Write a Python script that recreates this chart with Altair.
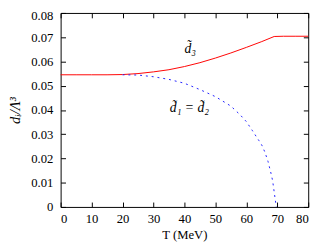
import altair as alt
import pandas as pd

T_d3 = [0, 5, 10, 15, 20, 25, 30, 35, 40, 45, 50, 55, 60, 65, 69, 72, 76, 80]
d3 = [0.0545, 0.0545, 0.0545, 0.0545, 0.0546, 0.0550, 0.0557, 0.0566, 0.0579,
      0.0595, 0.0614, 0.0635, 0.0658, 0.0682, 0.0703, 0.0704, 0.0704, 0.0704]

T_d12 = [20, 25, 30, 35, 40, 45, 50, 55, 58, 60, 62, 64, 65, 66, 67, 68,
         68.5, 69, 69.5, 69.7]
d12 = [0.0545, 0.0544, 0.0537, 0.0526, 0.0510, 0.0484, 0.0455, 0.0416, 0.0380,
       0.0352, 0.0314, 0.0275, 0.0255, 0.0226, 0.0188, 0.0137, 0.0108, 0.0062,
       0.0016, 0.0]

labels = ["d̃₃", "d̃₁ = d̃₂"]
label_T = [41.9, 41.6]
label_v = [0.0650, 0.0406]

df3 = pd.DataFrame({"T": T_d3, "d": d3})
df12 = pd.DataFrame({"T": T_d12, "d": d12})
dfl = pd.DataFrame({"T": label_T, "d": label_v, "label": labels})

FONT = "Liberation Serif"
xs = alt.Scale(domain=[0, 80], nice=False, zero=False)
ys = alt.Scale(domain=[0, 0.08], nice=False, zero=False)
xvals = list(range(0, 81, 10))
yvals = [i / 100 for i in range(0, 9)]

common_axis = dict(grid=False, domain=False, tickSize=5, tickColor="black",
                   tickWidth=1, offset=-5, labelFont=FONT, labelFontSize=13,
                   labelColor="black", titleFont=FONT,
                   titleColor="black", titleFontWeight="normal")

red = alt.Chart(df3).mark_line(color="#ff0000", strokeWidth=1).encode(
    x=alt.X("T:Q", scale=xs, axis=alt.Axis(orient="bottom", values=xvals,
            title="T (MeV)", labelPadding=6, titlePadding=3,
            titleFontSize=13, **common_axis)),
    y=alt.Y("d:Q", scale=ys, axis=alt.Axis(
        orient="left", values=yvals, title="dᵢ/Λ³", format=".2~f",
        labelPadding=8, titlePadding=8, titleFontStyle="italic",
        titleFontSize=15,
        labelOffset={"condition": {"test": "datum.value >= 0.08", "value": 3},
                     "value": 0},
        **common_axis)),
)

blue = alt.Chart(df12).mark_line(color="#2020ff", strokeWidth=1,
                                 strokeDash=[2, 4]).encode(
    x=alt.X("T:Q", scale=xs, axis=alt.Axis(orient="top", values=xvals,
            labels=False, title=None, **common_axis)),
    y=alt.Y("d:Q", scale=ys, axis=alt.Axis(orient="right", values=yvals,
            labels=False, title=None, **common_axis)),
)

text = alt.Chart(dfl).mark_text(font=FONT, fontSize=14, fontStyle="italic",
                                color="black").encode(
    x=alt.X("T:Q", scale=xs, axis=None),
    y=alt.Y("d:Q", scale=ys, axis=None),
    text="label:N",
)

chart = alt.layer(red, blue, text).resolve_axis(
    x="independent", y="independent"
).properties(
    width=254, height=199,
    autosize=alt.AutoSizeParams(type="none"),
    padding={"left": 54, "top": 2, "right": 9, "bottom": 38},
).configure_view(stroke="black", strokeWidth=1)

chart.save("out.html", embed_options={"renderer": "svg", "actions": False})
